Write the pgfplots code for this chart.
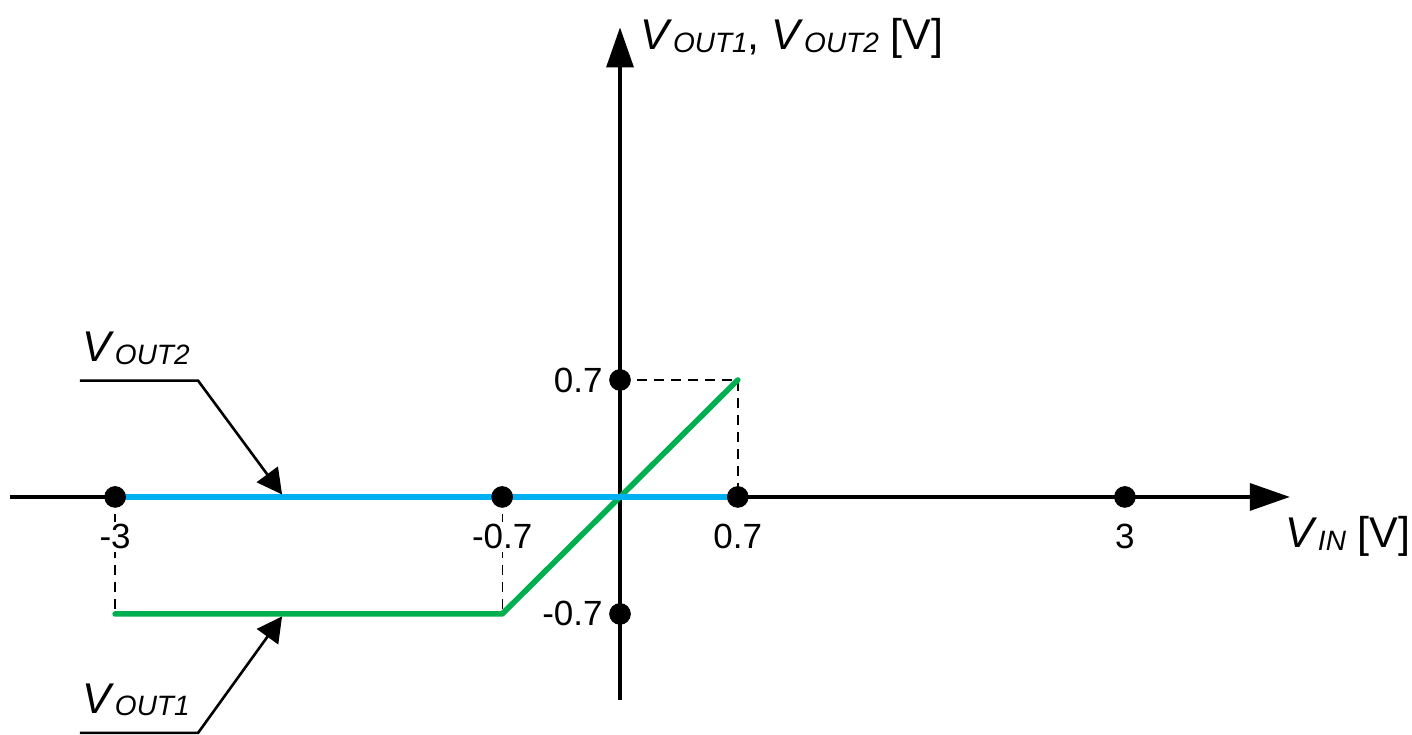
\documentclass[border=0pt]{standalone}
\usepackage{fontspec}
\setmainfont{Liberation Sans}
\usepackage{pgfplots}
\pgfplotsset{compat=1.18}
\usetikzlibrary{arrows.meta}

\definecolor{voutone}{RGB}{0,176,80}
\definecolor{vouttwo}{RGB}{0,176,240}

% italic V with a lowered italic subscript
\newcommand{\Vs}[1]{\textit{V}\kern0.3bp\raisebox{-1.3bp}{\fontsize{14bp}{16bp}\selectfont\textit{#1}}}
\tikzset{
  biglabel/.style={anchor=base west, inner sep=0pt, font=\fontsize{21.5bp}{26bp}\selectfont},
  ticktext/.style={font=\fontsize{17.5bp}{21bp}\selectfont, inner sep=1.5bp, fill=white},
  xtickname/.style={ticktext, anchor=base, yshift=-26bp},
  ytickname/.style={ticktext, anchor=east, xshift=-7bp},
}

\begin{document}
\begin{tikzpicture}
\begin{axis}[
  x=84.15bp, y=83.55bp,
  xmin=-3.625, xmax=3.98, ymin=-1.215, ymax=2.81,
  axis lines=middle,
  axis line style={line width=1.7bp, -{Triangle[length=20bp,width=13.5bp]}},
  clip=false,
  xtick=\empty, ytick=\empty,
]
% overall drawing area
\path (axis cs:-3.684,-1.424) rectangle (axis cs:4.706,2.974);

% guide lines to the break points
\addplot[black, line width=0.7bp, dash pattern=on 5bp off 3.5bp] coordinates {(-3,0) (-3,-0.7)};
\addplot[black, line width=0.7bp, dash pattern=on 5bp off 3.5bp] coordinates {(-0.7,0) (-0.7,-0.7)};
\addplot[black, line width=0.7bp, dash pattern=on 5bp off 3.5bp] coordinates {(0,0.7) (0.7,0.7) (0.7,0)};

% tick values, on a white ground over the guide lines
\node[xtickname] at (axis cs:-3,0) {-3};
\node[xtickname] at (axis cs:-0.7,0) {-0.7};
\node[xtickname] at (axis cs:0.7,0) {0.7};
\node[xtickname] at (axis cs:3,0) {3};
\node[ytickname] at (axis cs:0,0.7) {0.7};
\node[ytickname] at (axis cs:0,-0.7) {-0.7};

% marked points on the axes
\addplot[only marks, mark=*, mark size=5.2bp, black] coordinates {(-3,0) (-0.7,0) (0.7,0) (3,0) (0,0.7) (0,-0.7)};

% V_OUT1
\addplot[voutone, line width=2.8bp, line cap=round, line join=round] coordinates {(-3,-0.7) (-0.7,-0.7) (0.7,0.7)};
% V_OUT2
\addplot[vouttwo, line width=2.8bp, line cap=round] coordinates {(-3,0) (0.7,0)};

% callouts
\draw[line width=1.3bp, -{Triangle[length=12.5bp,width=13bp]}]
  (axis cs:-3.209,0.696) -- (axis cs:-2.507,0.696) -- (axis cs:-2.008,0.015);
\draw[line width=1.3bp, -{Triangle[length=12.5bp,width=13bp]}]
  (axis cs:-3.209,-1.412) -- (axis cs:-2.507,-1.412) -- (axis cs:-2.008,-0.715);
\node[biglabel] at (axis cs:-3.197,0.808) {\Vs{OUT2}};
\node[biglabel] at (axis cs:-3.197,-1.293) {\Vs{OUT1}};

% axis titles
\node[biglabel] at (axis cs:0.119,2.675) {\Vs{OUT1}, \Vs{OUT2} [V]};
\node[biglabel] at (axis cs:3.951,-0.305) {\Vs{IN} [V]};
\end{axis}
\end{tikzpicture}
\end{document}
